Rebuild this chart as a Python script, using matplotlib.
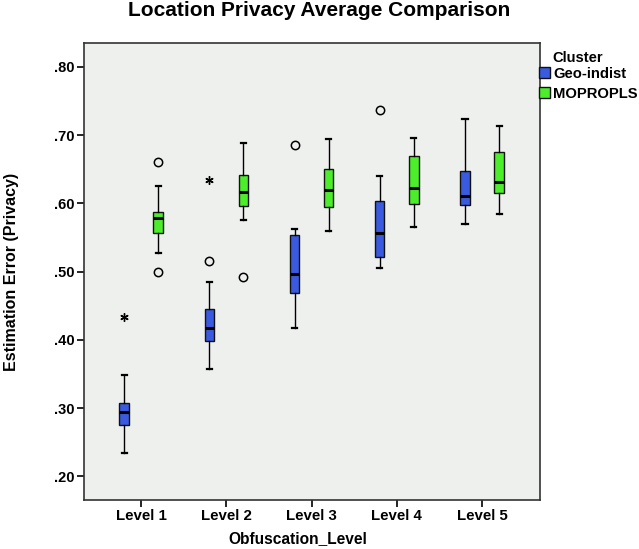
import matplotlib
matplotlib.use('Agg')
import matplotlib.pyplot as plt
import numpy as np
from matplotlib.patches import Patch

plt.rcParams['font.family'] = ['Liberation Sans', 'DejaVu Sans']
plt.rcParams['font.weight'] = 'bold'

levels = ['Level 1', 'Level 2', 'Level 3', 'Level 4', 'Level 5']
clusters = ['Geo-indist', 'MOPROPLS']
colors = ['#3a5ae0', '#4cee2c']

# whislo, q1, median, q3, whishi per level
geo_stats = [
    [0.234, 0.276, 0.294, 0.307, 0.348],
    [0.358, 0.399, 0.417, 0.445, 0.485],
    [0.418, 0.469, 0.496, 0.553, 0.563],
    [0.506, 0.522, 0.557, 0.603, 0.640],
    [0.570, 0.598, 0.611, 0.648, 0.724],
]
mop_stats = [
    [0.528, 0.556, 0.578, 0.588, 0.626],
    [0.575, 0.596, 0.616, 0.642, 0.689],
    [0.559, 0.595, 0.620, 0.650, 0.695],
    [0.566, 0.599, 0.622, 0.669, 0.696],
    [0.584, 0.615, 0.631, 0.675, 0.714],
]
# outliers (circles) and extremes (stars): (level index, value)
geo_circles = [(1, 0.515), (2, 0.686), (3, 0.737)]
geo_stars = [(0, 0.433), (1, 0.635)]
mop_circles = [(0, 0.661), (0, 0.499), (1, 0.492)]
mop_stars = []

fig = plt.figure(figsize=(6.39, 5.49), dpi=100)
ax = fig.add_axes([84/639, 49/549, 456/639, 457/549])
ax.set_facecolor('#eef0ee')

offset = 0.2
width = 0.11
for k, (stats, col) in enumerate([(geo_stats, colors[0]), (mop_stats, colors[1])]):
    pos = np.arange(len(levels)) + (-offset if k == 0 else offset)
    bs = [dict(whislo=s[0], q1=s[1], med=s[2], q3=s[3], whishi=s[4], fliers=[]) for s in stats]
    ax.bxp(bs, positions=pos, widths=width, patch_artist=True, showfliers=False,
           boxprops=dict(facecolor=col, edgecolor='#111111', linewidth=1.0),
           medianprops=dict(color='black', linewidth=2.2),
           whiskerprops=dict(color='black', linewidth=1.0),
           capprops=dict(color='black', linewidth=1.6),
           capwidths=0.06)

for circ, stars, off in [(geo_circles, geo_stars, -offset), (mop_circles, mop_stars, offset)]:
    if circ:
        ax.plot([c[0] + off for c in circ], [c[1] for c in circ], 'o', mfc='none',
                mec='black', ms=6, mew=1.1, ls='none')
    if stars:
        ax.plot([s[0] + off for s in stars], [s[1] for s in stars], marker=(6, 2, 0),
                color='black', ms=6, mew=1.0, ls='none')

ax.set_xlim(-0.67, 4.68)
ax.set_ylim(0.1655, 0.835)
ax.set_xticks(range(len(levels)))
ax.set_xticklabels(levels, fontsize=10.8)
yt = [0.2, 0.3, 0.4, 0.5, 0.6, 0.7, 0.8]
ax.set_yticks(yt)
ax.set_yticklabels(['.%02d' % round(v * 100) for v in yt], fontsize=10.5)
ax.tick_params(length=5, width=1.2, color='black', pad=1.5)
for sp in ax.spines.values():
    sp.set_linewidth(1.2)
    sp.set_color('#333333')

ax.set_xlabel('Obfuscation_Level', fontsize=11.2, fontweight='bold')
ax.xaxis.set_label_coords((298 - 84) / 456, -39 / 457)
ax.xaxis.label.set_va('center')
ax.set_ylabel('Estimation Error (Privacy)', fontsize=11.5, fontweight='bold')
ax.yaxis.set_label_coords((12 - 84) / 456, 0.5)
ax.yaxis.label.set_va('center')
fig.text(0.5, 1 - 10/549, 'Location Privacy Average Comparison', ha='center', va='center',
         fontsize=15, fontweight='bold')

fig.text(552/639, 1 - 58/549, 'Cluster', ha='left', va='center', fontsize=10.6,
         fontweight='bold')
handles = [Patch(facecolor=c, edgecolor='#111111', label=l) for c, l in zip(colors, clusters)]
leg = fig.legend(handles=handles, loc='upper left',
                 bbox_to_anchor=(539/639, 1 - 67/549), frameon=False, fontsize=10.6,
                 handlelength=0.75, handleheight=0.75, handletextpad=0.2,
                 borderpad=0.0, labelspacing=0.4, borderaxespad=0)

fig.savefig('out.png', dpi=100)
